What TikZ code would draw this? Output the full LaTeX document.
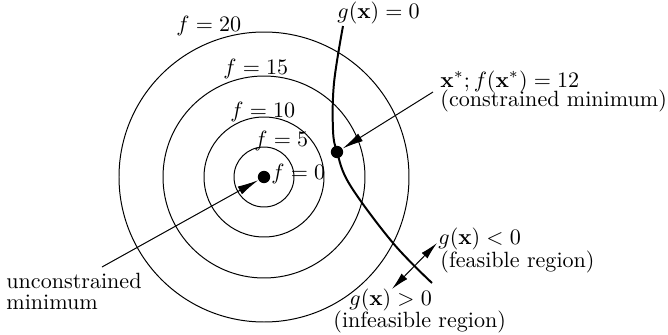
\documentclass[tikz,border=0pt]{standalone}
\usepackage{amsmath,amssymb}
\usetikzlibrary{arrows.meta,positioning}

\begin{document}
\begin{tikzpicture}[
  x=0.453pt, y=-0.453pt,
  contour/.style={draw, line width=0.45pt},
  gcurve/.style={draw, line width=0.9pt},
  dot/.style={circle, fill=black, inner sep=0, minimum size=5.6pt},
  lbl/.style={inner sep=0, anchor=base west},
  pointer/.style={-{Latex[length=9.5pt,width=4pt]}, line width=0.45pt},
  twoway/.style={{Latex[length=8pt,width=3.6pt]}-{Latex[length=8pt,width=3.6pt]}, line width=0.45pt},
]
\useasboundingbox (0,0) rectangle (668,335);
% Contours of f
\foreach \r in {30,60,101,145}
  \draw[contour] (264,177) circle[radius=\r];
% Constraint g(x)=0
\draw[gcurve] plot[smooth, tension=0.6] coordinates
  {(343,26) (334,83) (333,130) (337,152) (350,185) (393,243) (432,283)};
% Minima
\node[dot] (umin) at (264,177) {};
\node[dot] (xstar) at (337,152) {};
% Contour labels
\node[lbl] (f20) at (176,31) {$f = 20$};
\node[lbl] (f15) at (223,74) {$f = 15$};
\node[lbl] (f10) at (230,117) {$f = 10$};
\node[lbl] (f5)  at (254,146) {$f = 5$};
\node[lbl] (f0)  at (271,179) {$f = 0$};
\node[lbl] (g0)  at (337,18) {$g(\mathbf{x}) = 0$};
% Constrained minimum
\node[lbl] (xlab)  at (440,87)  {$\mathbf{x}^*; f(\mathbf{x}^*) = 12$};
\node[lbl] (xlabb) at (440,106) {(constrained minimum)};
\coordinate (xfrom) at (433,92);
\draw[pointer] (xfrom) -- (xstar);
% Unconstrained minimum
\node[lbl] (ulab)  at (6,288) {unconstrained};
\node[lbl] (ulabb) at (6,309) {minimum};
\coordinate (ufrom) at (102,267);
\draw[pointer] (ufrom) -- (umin);
% Regions
\node[lbl] (feas)    at (438,244) {$g(\mathbf{x}) < 0$};
\node[lbl] (feasb)   at (440,267) {(feasible region)};
\node[lbl] (infeas)  at (349,305) {$g(\mathbf{x}) > 0$};
\node[lbl] (infeasb) at (333,327) {(infeasible region)};
\coordinate (pfeas) at (437,243);
\coordinate (pinfeas) at (392,289);
\draw[twoway] (pinfeas) -- (pfeas);
\end{tikzpicture}
\end{document}
